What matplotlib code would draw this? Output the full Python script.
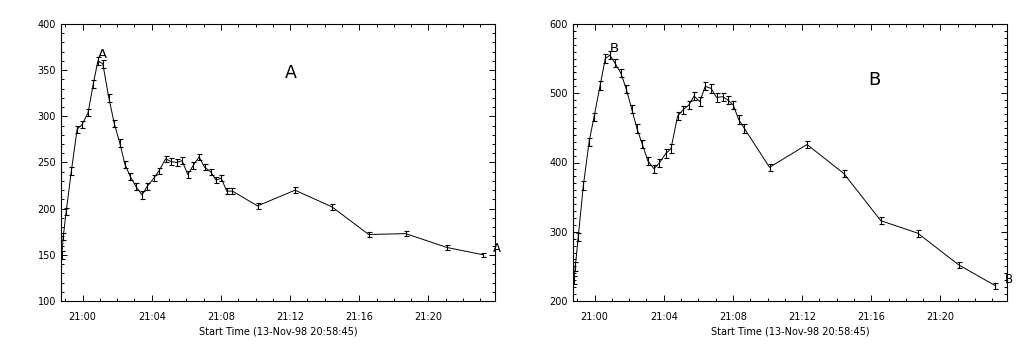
import numpy as np
import matplotlib
matplotlib.use('Agg')
import matplotlib.pyplot as plt
from matplotlib.ticker import MultipleLocator, FuncFormatter

# Sample times (UT), shared by both light curves
times = ['20:58:48', '20:58:53', '20:59:03', '20:59:21', '20:59:41', '20:59:58',
         '21:00:19', '21:00:37', '21:00:53', '21:01:10', '21:01:31', '21:01:50',
         '21:02:09', '21:02:27', '21:02:45', '21:03:05', '21:03:26', '21:03:44',
         '21:04:07', '21:04:25', '21:04:48', '21:05:07', '21:05:27', '21:05:45',
         '21:06:05', '21:06:24', '21:06:44', '21:07:03', '21:07:24', '21:07:43',
         '21:08:01', '21:08:20', '21:08:40', '21:10:07', '21:12:17', '21:14:25',
         '21:16:33', '21:18:41', '21:21:04', '21:23:11']

# Source A
val_a = [150, 170, 197, 241, 286, 291, 304, 335, 360, 357, 320, 292, 271, 248,
         235, 224, 215, 224, 233, 241, 254, 251, 250, 252, 237, 247, 256, 245,
         240, 231, 233, 219, 219, 203, 220, 202, 172, 173, 158, 150]
err_a = [4, 4, 4, 4, 4, 4, 4, 4, 4.5, 4.5, 4, 4, 4, 4, 4, 4, 4, 3.5, 3.5, 3.5,
         3.5, 3.5, 3.5, 3.5, 3.5, 3.5, 3.5, 3.5, 3.5, 3.5, 3.5, 3.5, 3.5, 3, 3,
         3, 3, 3, 2.5, 2.5]

# Source B
val_b = [230, 250, 292, 367, 430, 466, 511, 550, 555, 544, 529, 506, 477, 449,
         427, 402, 391, 399, 413, 420, 467, 476, 483, 496, 488, 510, 507, 494,
         495, 490, 483, 462, 449, 393, 426, 384, 316, 298, 252, 222]
err_b = [6, 6, 6, 6, 6, 6, 6, 6, 6, 6, 6, 6, 6, 6, 6, 6, 6, 6, 6, 6, 6, 6, 6,
         6, 6, 6, 6, 6, 6, 6, 6, 6, 6, 5.5, 5.5, 5, 5, 5, 4.5, 4.5]

x_label = 'Start Time (13-Nov-98 20:58:45)'


# convert 'HH:MM:SS' to minutes after 21:00
def to_min(t):
    h, m, s = [int(p) for p in t.split(':')]
    return (h - 21) * 60 + m + s / 60.0


t = np.array([to_min(s) for s in times])
x_min, x_max = -1.25, 23.85   # axis starts at 20:58:45


def tick_fmt(v, pos):
    return '21:%02d' % int(round(v))


def setup_axis(ax, ylim, ymajor, yminor):
    ax.set_xlim(x_min, x_max)
    ax.set_ylim(*ylim)
    ax.xaxis.set_major_locator(MultipleLocator(4))
    ax.xaxis.set_minor_locator(MultipleLocator(1))
    ax.xaxis.set_major_formatter(FuncFormatter(tick_fmt))
    ax.yaxis.set_major_locator(MultipleLocator(ymajor))
    ax.yaxis.set_minor_locator(MultipleLocator(yminor))
    ax.tick_params(which='both', direction='in', top=True, right=True,
                   width=0.7, labelsize=7)
    ax.tick_params(which='major', length=4.5)
    ax.tick_params(which='minor', length=2.2)
    ax.tick_params(axis='x', pad=8)
    ax.tick_params(axis='y', pad=3.5)
    for sp in ax.spines.values():
        sp.set_linewidth(0.8)
    ax.set_xlabel(x_label, fontsize=7, labelpad=3)


def draw_curve(ax, vals, errs, name, big_pos, big_size):
    ax.errorbar(t, vals, yerr=errs, color='k', lw=0.7, elinewidth=0.8,
                capsize=1.8, capthick=0.8)
    imax = int(np.argmax(vals))
    ax.text(t[imax], vals[imax], name, fontsize=9.5, ha='left', va='bottom')
    ax.text(x_max - 0.1, vals[-1], name, fontsize=8.5, ha='left', va='bottom')
    ax.text(big_pos[0], big_pos[1], name, fontsize=big_size, ha='center',
            va='center', transform=ax.transAxes)


fig = plt.figure(figsize=(10.24, 3.5), dpi=100)

ax1 = fig.add_axes([61 / 1024, 49 / 350, 434 / 1024, 277 / 350])
setup_axis(ax1, (100, 400), 50, 10)
draw_curve(ax1, val_a, err_a, 'A', (0.53, 0.823), 12.5)

ax2 = fig.add_axes([573 / 1024, 49 / 350, 434 / 1024, 277 / 350])
setup_axis(ax2, (200, 600), 100, 10)
draw_curve(ax2, val_b, err_b, 'B', (0.695, 0.798), 13)

fig.savefig('out.png', dpi=100)
